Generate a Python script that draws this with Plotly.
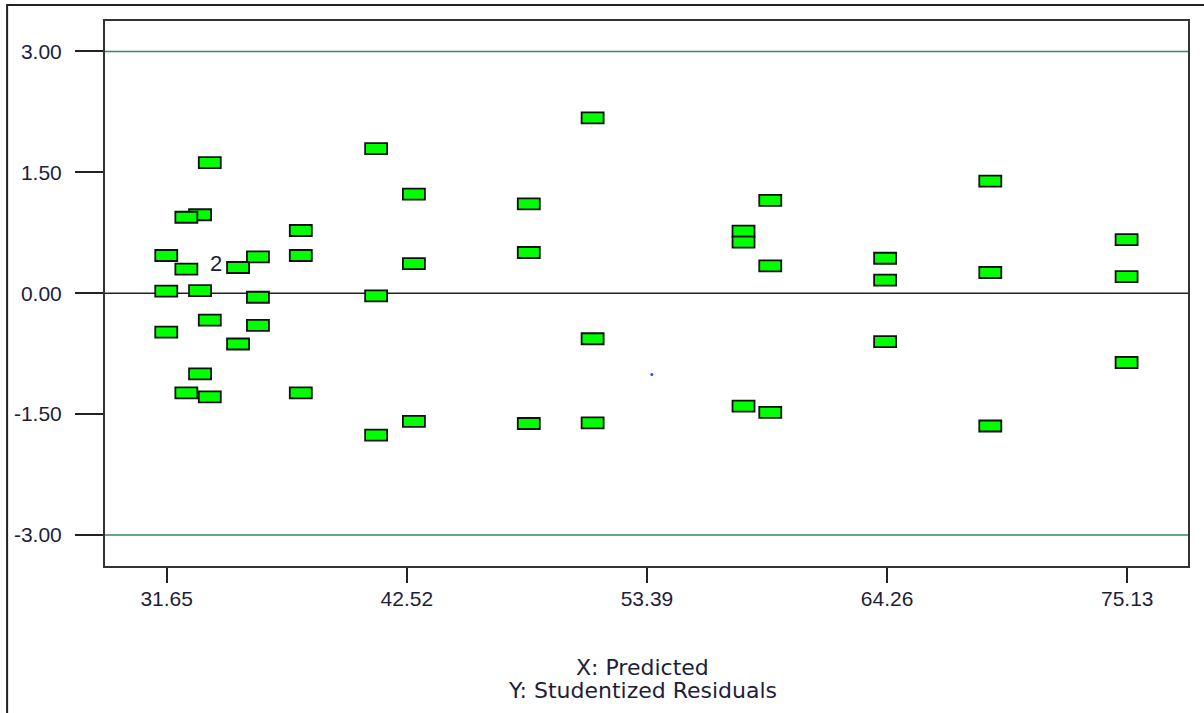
import plotly.graph_objects as go

# ---- data ----
predicted = [
    33.60, 33.16, 32.54, 37.72, 31.63, 37.72, 35.78, 32.54, 34.88,
    31.63, 33.16, 35.78, 33.60, 35.78, 31.63, 34.88, 33.16, 32.54, 33.60, 37.72,
    50.93, 41.13, 42.84, 48.04, 48.04, 42.84, 41.13, 50.93, 42.84, 48.04, 50.93, 41.13,
    68.93, 58.97, 57.76, 57.76, 75.10, 64.17, 58.97, 68.93, 75.10, 64.17, 64.17,
    75.10, 57.76, 58.97, 68.93,
]
residuals = [
    1.62, 0.974, 0.943, 0.778, 0.468, 0.468, 0.45, 0.30, 0.319,
    0.025, 0.033, -0.05, -0.335, -0.40, -0.484, -0.63, -1.00, -1.237, -1.287, -1.237,
    2.175, 1.795, 1.23, 1.108, 0.505, 0.368, -0.033, -0.565, -1.59, -1.617, -1.609, -1.762,
    1.39, 1.151, 0.771, 0.633, 0.664, 0.434, 0.339, 0.257, 0.205, 0.163, -0.60,
    -0.86, -1.402, -1.479, -1.648,
]
multi_label = "2"
multi_index = 8          # point carrying the "2" (two coincident runs)
stray_x = [53.61]
stray_y = [-1.009]

x_ticks = [31.65, 42.52, 53.39, 64.26, 75.13]
y_ticks = [3.00, 1.50, 0.00, -1.50, -3.00]
limit_lines = [3.0, -3.0]
title_lines = ["X: Predicted", "Y: Studentized Residuals"]

x_range = [28.857, 77.88]
y_range = [-3.385, 3.378]

fig = go.Figure()

fig.add_trace(go.Scatter(
    x=predicted, y=residuals, mode="markers",
    marker=dict(symbol="square", size=12, color="rgba(0,255,0,0)",
                line=dict(width=0)),
    hovertemplate="Predicted %{x}<br>Residual %{y}<extra></extra>",
    showlegend=False,
))
fig.add_trace(go.Scatter(
    x=stray_x, y=stray_y, mode="markers",
    marker=dict(symbol="circle", size=3, color="#3344ff", line=dict(width=0)),
    hoverinfo="skip", showlegend=False,
))

shapes = []
for v in limit_lines:
    shapes.append(dict(type="line", xref="paper", x0=0, x1=1, yref="y", y0=v, y1=v,
                       line=dict(color="#2e8b57", width=1.5), layer="below"))
shapes.append(dict(type="line", xref="paper", x0=0, x1=1, yref="y", y0=0, y1=0,
                   line=dict(color="#222222", width=1.5), layer="below"))
for xv, yv in zip(predicted, residuals):
    shapes.append(dict(type="rect", xref="x", yref="y",
                       xsizemode="pixel", ysizemode="pixel",
                       xanchor=xv, yanchor=yv,
                       x0=-11, x1=11, y0=-5.5, y1=5.5,
                       fillcolor="#00ff00", line=dict(color="#111111", width=1.8),
                       layer="above"))
shapes.append(dict(type="rect", xref="paper", yref="paper",
                   x0=-0.0904, x1=1.03, y0=-0.30, y1=1.0294,
                   line=dict(color="#222222", width=2), fillcolor="rgba(0,0,0,0)",
                   layer="below"))

title_font = dict(family="DejaVu Sans", size=22, color="#1e1e3a")
annotations = [
    dict(x=predicted[multi_index], y=residuals[multi_index], xref="x", yref="y",
         text=multi_label, showarrow=False, xshift=-22, yshift=4,
         font=dict(family="Liberation Sans, Arial", size=22, color="#1e1e3a")),
]
for i, line in enumerate(title_lines):
    annotations.append(dict(x=0.4963, y=(566 - (667 + 23 * i)) / 545,
                            xref="paper", yref="paper", text=line, showarrow=False,
                            xanchor="center", yanchor="middle", font=title_font))

axis_font = dict(family="Liberation Sans, Arial", size=21, color="#1e1e3a")

fig.update_layout(
    width=1204, height=713,
    margin=dict(l=105, r=16, t=21, b=147),
    paper_bgcolor="white", plot_bgcolor="white",
    shapes=shapes, annotations=annotations,
    showlegend=False,
    xaxis=dict(range=x_range, tickvals=x_ticks,
               ticktext=[f"{v:.2f}" for v in x_ticks],
               ticks="outside", ticklen=15, tickwidth=2, tickcolor="#222222",
               showline=True, linecolor="#333333", linewidth=2, mirror=True,
               showgrid=False, zeroline=False, tickfont=axis_font,
               ticklabelstandoff=-2),
    yaxis=dict(range=y_range, tickvals=y_ticks,
               ticktext=[f"{v:.2f}" for v in y_ticks],
               ticks="outside", ticklen=28, tickwidth=2, tickcolor="#222222",
               showline=True, linecolor="#333333", linewidth=2, mirror=True,
               showgrid=False, zeroline=False, tickfont=axis_font,
               ticklabelstandoff=9),
)

fig.write_html("out.html")
